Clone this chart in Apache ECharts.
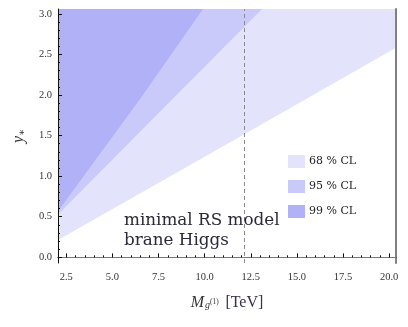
<!DOCTYPE html>
<html>
<head>
<meta charset="utf-8">
<script src="https://cdn.jsdelivr.net/npm/echarts@6/dist/echarts.min.js"></script>
<style>html,body{margin:0;padding:0;background:#fff;}#c{width:408px;height:327px;}</style>
</head>
<body>
<div id="c"></div>
<script>
// ---- data ----
const seriesNames = ['68 % CL', '95 % CL', '99 % CL'];
// lower boundaries of each excluded band (band fills up to the top of the plot)
const cl68Boundary = [[1.8, 0.18], [12.1, 1.51], [20.5, 2.6]];
const cl95Boundary = [[1.8, 0.47], [9.0, 2.12], [13.2, 3.08]];
const cl99Boundary = [[1.8, 0.49], [6.5, 1.95], [10.0, 3.09]];
const dashedMass = 12.14;
const xTicks = [2.5, 5.0, 7.5, 10.0, 12.5, 15.0, 17.5, 20.0];
const xMinorTicks = [2.5, 3.0, 3.5, 4.0, 4.5, 5.0, 5.5, 6.0, 6.5, 7.0, 7.5, 8.0, 8.5, 9.0, 9.5, 10.0, 10.5, 11.0, 11.5, 12.0, 12.5, 13.0, 13.5, 14.0, 14.5, 15.0, 15.5, 16.0, 16.5, 17.0, 17.5, 18.0, 18.5, 19.0, 19.5, 20.0];
const yTicks = [0.0, 0.5, 1.0, 1.5, 2.0, 2.5, 3.0];
const yMinorTicks = [0.0, 0.1, 0.2, 0.3, 0.4, 0.5, 0.6, 0.7, 0.8, 0.9, 1.0, 1.1, 1.2, 1.3, 1.4, 1.5, 1.6, 1.7, 1.8, 1.9, 2.0, 2.1, 2.2, 2.3, 2.4, 2.5, 2.6, 2.7, 2.8, 2.9, 3.0];
const colors = ['#e3e3fc', '#cacafa', '#b1b1f8'];

const X_MIN = 2.05, X_MAX = 20.37, Y_MIN = -0.07, Y_MAX = 3.06;
const serif = '"Liberation Serif", "DejaVu Serif", serif';
const tickFont = { fontFamily: serif, fontSize: 10.5, color: '#333' };

function band(name, data, color, extra) {
  return Object.assign({
    name: name, type: 'line', data: data, xAxisIndex: 0, yAxisIndex: 0,
    showSymbol: false, symbol: 'none', smooth: false, silent: true,
    color: color, itemStyle: { color: color },
    lineStyle: { width: 0, color: color },
    areaStyle: { origin: 'end', color: color, opacity: 1 },
    clip: true, z: 2
  }, extra || {});
}

const chart = echarts.init(document.getElementById('c'), null, { renderer: 'canvas' });
chart.setOption({
  animation: false,
  backgroundColor: '#fff',
  grid: { left: 58, right: 12, top: 9, bottom: 64, containLabel: false },
  legend: {
    data: seriesNames, orient: 'vertical', left: 288, top: 155, padding: 0,
    icon: 'rect', itemWidth: 17, itemHeight: 13, itemGap: 12,
    textStyle: { fontFamily: '"DejaVu Serif", serif', fontSize: 11, color: '#222', padding: [0, 0, 0, -1] },
    selectedMode: false
  },
  xAxis: [
    {
      type: 'value', min: X_MIN, max: X_MAX, position: 'bottom', z: 10,
      axisLine: { show: true, lineStyle: { color: '#111', width: 1 } },
      axisTick: { show: true, inside: true, length: 4, customValues: xTicks, lineStyle: { color: '#111' } },
      axisLabel: { show: true, customValues: xTicks, margin: 9, formatter: v => v.toFixed(1), ...tickFont },
      splitLine: { show: false },
      name: '{m|M}{sub|g}{sup|(1)}  {n|[TeV]}',
      nameLocation: 'middle', nameGap: 30,
      nameTextStyle: {
        rich: {
          m: { fontFamily: serif, fontStyle: 'italic', fontSize: 16, color: '#333', lineHeight: 20 },
          sub: { fontFamily: serif, fontStyle: 'italic', fontSize: 10, color: '#333', padding: [5, 0, 0, 1] },
          sup: { fontFamily: serif, fontSize: 7.5, color: '#333', padding: [0, 0, 1, 0] },
          n: { fontFamily: serif, fontSize: 16, color: '#3a2f4a', lineHeight: 20 }
        }
      }
    },
    {
      type: 'value', min: X_MIN, max: X_MAX, position: 'bottom', z: 10,
      axisLine: { show: false },
      axisTick: { show: true, inside: true, length: 2, customValues: xMinorTicks, lineStyle: { color: '#111' } },
      axisLabel: { show: false }, splitLine: { show: false }
    },
    {
      type: 'value', min: X_MIN, max: X_MAX, position: 'top', z: 10,
      axisLine: { show: true, lineStyle: { color: '#777', width: 1 } },
      axisTick: { show: false }, axisLabel: { show: false }, splitLine: { show: false }
    }
  ],
  yAxis: [
    {
      type: 'value', min: Y_MIN, max: Y_MAX, position: 'left', z: 10,
      axisLine: { show: true, lineStyle: { color: '#111', width: 1 } },
      axisTick: { show: true, inside: true, length: 4, customValues: yTicks, lineStyle: { color: '#111' } },
      axisLabel: { show: true, customValues: yTicks, margin: 6, formatter: v => v.toFixed(1), ...tickFont },
      splitLine: { show: false },
      name: '{y|y}{s|∗}', nameLocation: 'middle', nameGap: 31, nameRotate: 90,
      nameTextStyle: {
        rich: {
          y: { fontFamily: serif, fontStyle: 'italic', fontSize: 16, color: '#333' },
          s: { fontFamily: serif, fontSize: 10, color: '#333', padding: [6, 0, 0, 0] }
        }
      }
    },
    {
      type: 'value', min: Y_MIN, max: Y_MAX, position: 'left', z: 10,
      axisLine: { show: false },
      axisTick: { show: true, inside: true, length: 2, customValues: yMinorTicks, lineStyle: { color: '#111' } },
      axisLabel: { show: false }, splitLine: { show: false }
    },
    {
      type: 'value', min: Y_MIN, max: Y_MAX, position: 'right', z: 10,
      axisLine: { show: true, lineStyle: { color: '#808080', width: 2 } },
      axisTick: { show: false }, axisLabel: { show: false }, splitLine: { show: false }
    }
  ],
  graphic: [
    {
      type: 'text', left: 124, top: 211, silent: true, z: 20,
      style: {
        text: 'minimal RS model\nbrane Higgs',
        font: '16.8px "DejaVu Serif", serif', fill: '#2a2a38', lineHeight: 20
      }
    }
  ],
  series: [
    band(seriesNames[0], cl68Boundary, colors[0]),
    band(seriesNames[1], cl95Boundary, colors[1]),
    band(seriesNames[2], cl99Boundary, colors[2], {
      markLine: {
        silent: true, symbol: ['none', 'none'], label: { show: false },
        lineStyle: { color: '#8a8a8a', type: [4, 3], width: 1 },
        data: [{ xAxis: dashedMass }]
      }
    })
  ]
});
</script>
</body>
</html>
